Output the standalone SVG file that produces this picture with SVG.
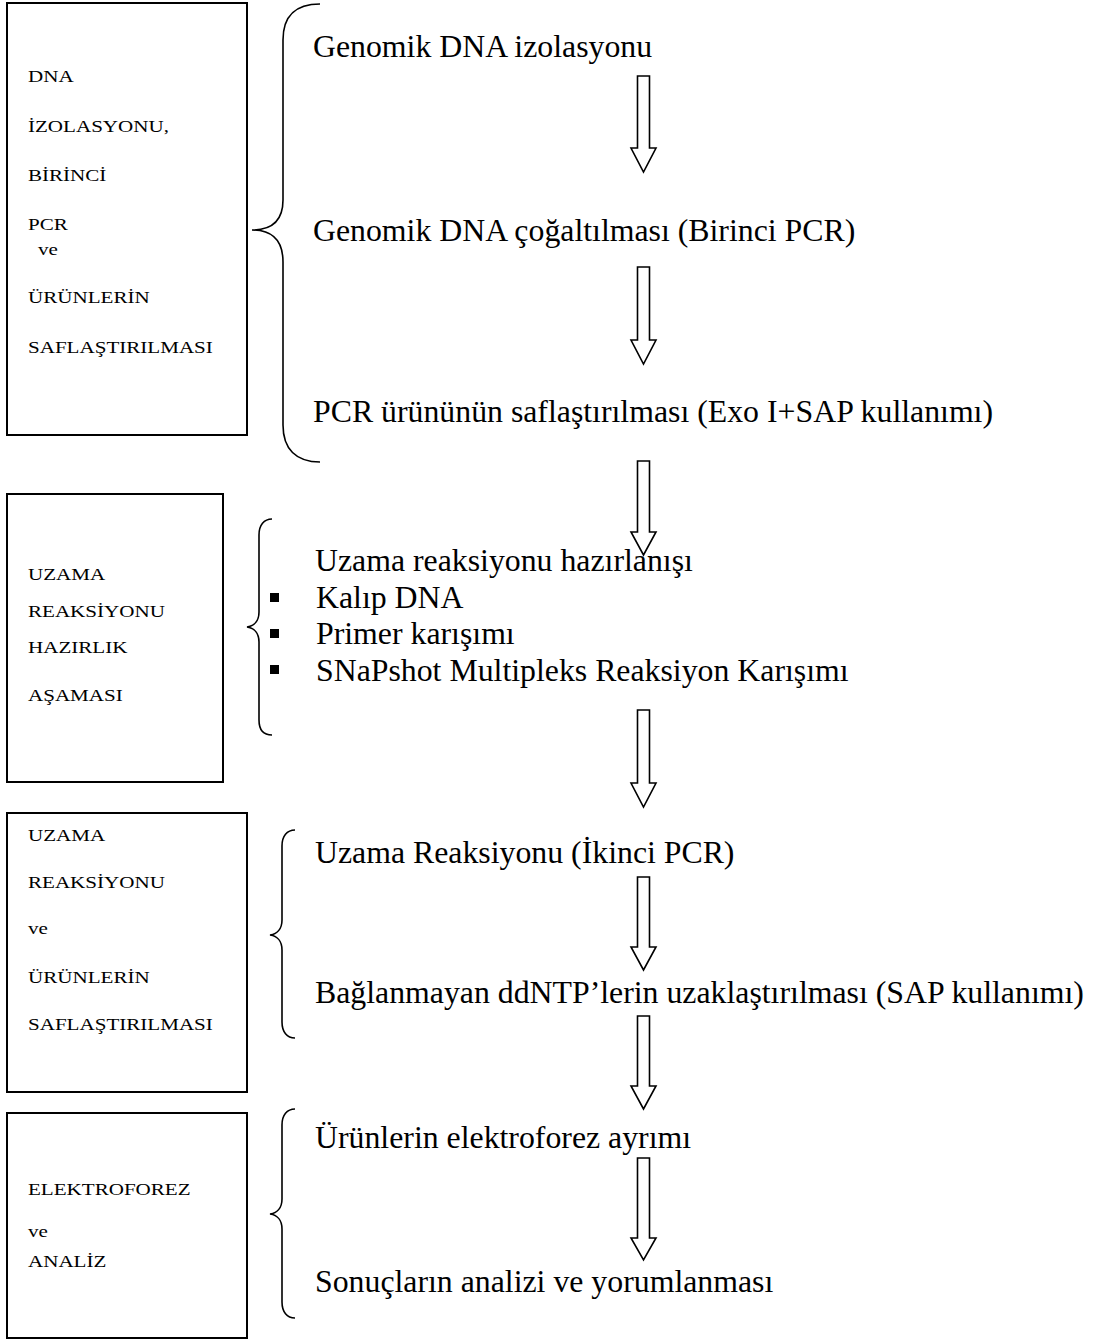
<svg xmlns="http://www.w3.org/2000/svg" width="1093" height="1340" viewBox="0 0 1093 1340">
<style>
.box{fill:#fff;stroke:#000;stroke-width:2}
.br{fill:none;stroke:#000;stroke-width:1.6}
.ar{fill:none;stroke:#000;stroke-width:1.6;stroke-linejoin:miter}
.lb{font-family:"Liberation Serif","Times New Roman",serif;font-size:17px;fill:#000}
.mt{font-family:"Liberation Serif","Times New Roman",serif;font-size:31.8px;fill:#000}
.bu{fill:#000}
</style>
<rect width="1093" height="1340" fill="#fff"/>

<g id="box1">
<rect class="box" x="7" y="3" width="240" height="432"/>
<text class="lb" transform="translate(28,82) scale(1.24,1)">DNA</text>
<text class="lb" transform="translate(28,132) scale(1.24,1)">İZOLASYONU,</text>
<text class="lb" transform="translate(28,181) scale(1.24,1)">BİRİNCİ</text>
<text class="lb" transform="translate(28,230) scale(1.24,1)">PCR</text>
<text class="lb" transform="translate(38,255) scale(1.24,1)">ve</text>
<text class="lb" transform="translate(28,303) scale(1.24,1)">ÜRÜNLERİN</text>
<text class="lb" transform="translate(28,353) scale(1.24,1)">SAFLAŞTIRILMASI</text>
</g>

<g id="box2">
<rect class="box" x="7" y="494" width="216" height="288"/>
<text class="lb" transform="translate(28,580) scale(1.24,1)">UZAMA</text>
<text class="lb" transform="translate(28,617) scale(1.24,1)">REAKSİYONU</text>
<text class="lb" transform="translate(28,653) scale(1.24,1)">HAZIRLIK</text>
<text class="lb" transform="translate(28,701) scale(1.24,1)">AŞAMASI</text>
</g>

<g id="box3">
<rect class="box" x="7" y="813" width="240" height="279"/>
<text class="lb" transform="translate(28,841) scale(1.24,1)">UZAMA</text>
<text class="lb" transform="translate(28,888) scale(1.24,1)">REAKSİYONU</text>
<text class="lb" transform="translate(28,934) scale(1.24,1)">ve</text>
<text class="lb" transform="translate(28,983) scale(1.24,1)">ÜRÜNLERİN</text>
<text class="lb" transform="translate(28,1030) scale(1.24,1)">SAFLAŞTIRILMASI</text>
</g>

<g id="box4">
<rect class="box" x="7" y="1113" width="240" height="225"/>
<text class="lb" transform="translate(28,1195) scale(1.24,1)">ELEKTROFOREZ</text>
<text class="lb" transform="translate(28,1237) scale(1.24,1)">ve</text>
<text class="lb" transform="translate(28,1267) scale(1.24,1)">ANALİZ</text>
</g>

<g id="braces">
<path class="br" d="M320,4 C296,4 283,16 283,40 L283,200 C283,220 272,230 252,230 C272,230 283,240 283,262 L283,425 C283,449 296,462 320,462"/>
<path class="br" d="M272,519 C264,519 259,525 259,535 L259,612 C259,621 254,626 247,627 C254,628 259,633 259,642 L259,720 C259,730 264,735 272,735"/>
<path class="br" d="M295,830 C287,830 282,836 282,846 L282,920 C282,929 277,934 270,935 C277,936 282,941 282,950 L282,1022 C282,1032 287,1038 295,1038"/>
<path class="br" d="M295,1109 C287,1109 282,1115 282,1125 L282,1199 C282,1208 277,1213 270,1214 C277,1215 282,1220 282,1229 L282,1302 C282,1312 287,1318 295,1318"/>
</g>

<g id="steps">
<text class="mt" x="313" y="57">Genomik DNA izolasyonu</text>
<text class="mt" x="313" y="241">Genomik DNA çoğaltılması (Birinci PCR)</text>
<text class="mt" x="313" y="422">PCR ürününün saflaştırılması (Exo I+SAP kullanımı)</text>
<text class="mt" x="315" y="571">Uzama reaksiyonu hazırlanışı</text>
<rect class="bu" x="270" y="593" width="9" height="9"/>
<text class="mt" x="316" y="608">Kalıp DNA</text>
<rect class="bu" x="270" y="629" width="9" height="9"/>
<text class="mt" x="316" y="644">Primer karışımı</text>
<rect class="bu" x="270" y="665" width="9" height="9"/>
<text class="mt" x="316" y="681">SNaPshot Multipleks Reaksiyon Karışımı</text>
<text class="mt" x="315" y="863">Uzama Reaksiyonu (İkinci PCR)</text>
<text class="mt" x="315" y="1003">Bağlanmayan ddNTP’lerin uzaklaştırılması (SAP kullanımı)</text>
<text class="mt" x="315" y="1148">Ürünlerin elektroforez ayrımı</text>
<text class="mt" x="315" y="1292">Sonuçların analizi ve yorumlanması</text>
</g>

<g id="connectors">
<path class="ar" d="M637.5,76 L649.5,76 L649.5,148 L656,148 L643.5,172 L631,148 L637.5,148 Z"/>
<path class="ar" d="M637.5,267 L649.5,267 L649.5,340 L656,340 L643.5,364 L631,340 L637.5,340 Z"/>
<path class="ar" d="M637.5,461 L649.5,461 L649.5,532 L656,532 L643.5,555 L631,532 L637.5,532 Z"/>
<path class="ar" d="M637.5,710 L649.5,710 L649.5,783 L656,783 L643.5,807 L631,783 L637.5,783 Z"/>
<path class="ar" d="M637.5,877 L649.5,877 L649.5,947 L656,947 L643.5,970 L631,947 L637.5,947 Z"/>
<path class="ar" d="M637.5,1016 L649.5,1016 L649.5,1086 L656,1086 L643.5,1109 L631,1086 L637.5,1086 Z"/>
<path class="ar" d="M637.5,1158 L649.5,1158 L649.5,1238 L656,1238 L643.5,1260 L631,1238 L637.5,1238 Z"/>
</g>
</svg>
